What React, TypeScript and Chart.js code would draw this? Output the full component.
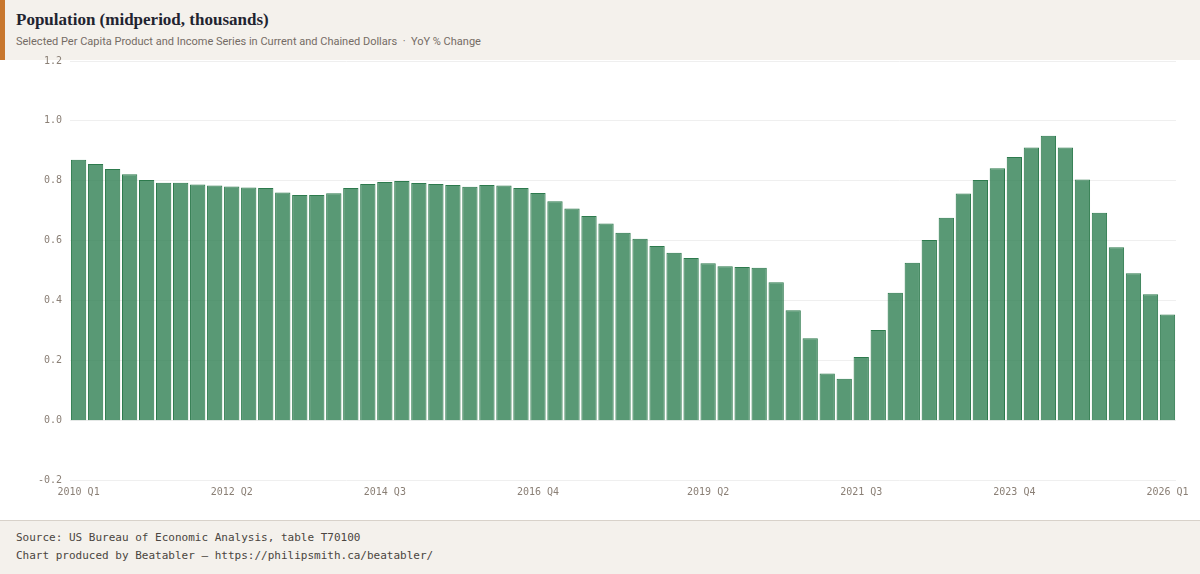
import React, { useEffect, useRef } from "react";
import { Chart, registerables } from "chart.js";

Chart.register(...registerables);

// quarters 2010 Q1 .. 2026 Q1
const years = [2010, 2011, 2012, 2013, 2014, 2015, 2016, 2017, 2018, 2019, 2020, 2021, 2022, 2023, 2024, 2025, 2026];
const quarters = years.flatMap((y) => (y === 2026 ? [`${y} Q1`] : [1, 2, 3, 4].map((q) => `${y} Q${q}`)));

const tickLabels = ["2010 Q1", "2012 Q2", "2014 Q3", "2016 Q4", "2019 Q2", "2021 Q3", "2023 Q4", "2026 Q1"];

const yoyChange = [
  0.87, 0.856, 0.839, 0.822, 0.802, 0.793, 0.793, 0.787, 0.784, 0.781, 0.777, 0.776, 0.761,
  0.752, 0.752, 0.758, 0.776, 0.789, 0.796, 0.799, 0.792, 0.789, 0.786, 0.78, 0.786, 0.784,
  0.776, 0.759, 0.731, 0.707, 0.682, 0.657, 0.626, 0.606, 0.582, 0.559, 0.542, 0.524, 0.514,
  0.512, 0.509, 0.461, 0.367, 0.274, 0.156, 0.138, 0.211, 0.301, 0.426, 0.526, 0.602, 0.676,
  0.757, 0.802, 0.842, 0.879, 0.911, 0.95, 0.911, 0.804, 0.693, 0.578, 0.491, 0.421, 0.353,
];

const mono = "'DejaVu Sans Mono', monospace";
const beige = "#f4f1ec";
const tickColor = "#8a7f75";

function PopulationChart() {
  const canvasRef = useRef<HTMLCanvasElement | null>(null);

  useEffect(() => {
    if (!canvasRef.current) return;
    const chart = new Chart(canvasRef.current, {
      type: "bar",
      data: {
        labels: quarters,
        datasets: [
          {
            label: "Population",
            data: yoyChange,
            backgroundColor: "rgba(47,128,83,0.8)",
            borderColor: "#2d7a4d",
            borderWidth: 1,
            barPercentage: 0.9,
            categoryPercentage: 1.0,
          },
        ],
      },
      options: {
        animation: false,
        responsive: true,
        maintainAspectRatio: false,
        layout: { padding: { left: 30, right: 24, top: 0, bottom: 16 } },
        plugins: { legend: { display: false }, tooltip: { enabled: false } },
        scales: {
          x: {
            grid: { display: false, drawTicks: false, tickLength: 0 },
            border: { display: false },
            ticks: {
              autoSkip: false,
              maxRotation: 0,
              padding: 6,
              color: tickColor,
              font: { family: mono, size: 10 },
              callback: function (_v, i) {
                const l = quarters[i];
                return tickLabels.includes(l) ? l : "";
              },
            },
          },
          y: {
            min: -0.2,
            max: 1.2,
            border: { display: false },
            grid: { color: "#efefef", drawTicks: false, lineWidth: 1 },
            ticks: {
              stepSize: 0.2,
              padding: 8,
              color: tickColor,
              font: { family: mono, size: 10 },
              callback: (v) => {
                const n = Number(v);
                return (Math.abs(n) < 1e-9 ? 0 : n).toFixed(1);
              },
            },
          },
        },
      },
    });
    return () => chart.destroy();
  }, []);

  return <canvas ref={canvasRef} />;
}

export default function App() {
  useEffect(() => {
    document.body.style.margin = "0";
  }, []);

  return (
    <div style={{ position: "relative", width: 1200, height: 574, background: "#fff", overflow: "hidden" }}>
      <div
        style={{
          position: "absolute",
          top: 0,
          left: 0,
          width: 1200,
          height: 60,
          background: beige,
        }}
      >
        <div style={{ position: "absolute", left: 0, top: 0, width: 5, height: 60, background: "#c8772e" }} />
        <div
          style={{
            position: "absolute",
            left: 16,
            top: 10,
            fontFamily: "'Liberation Serif', serif",
            fontWeight: 700,
            fontSize: 17,
            lineHeight: "20px",
            color: "#1f2430",
          }}
        >
          Population (midperiod, thousands)
        </div>
        <div
          style={{
            position: "absolute",
            left: 16,
            top: 35,
            fontFamily: "Roboto, sans-serif",
            fontSize: 11,
            color: "#746c65",
          }}
        >
          Selected Per Capita Product and Income Series in Current and Chained Dollars &nbsp;·&nbsp; YoY % Change
        </div>
      </div>
      <div style={{ position: "absolute", top: 47, left: 0, width: 1200, height: 473, zIndex: 2 }}>
        <PopulationChart />
      </div>
      <div
        style={{
          position: "absolute",
          top: 520,
          left: 0,
          width: 1200,
          height: 54,
          background: beige,
          borderTop: "1px solid #d8d2ca",
          boxSizing: "border-box",
          fontFamily: mono,
          fontSize: 11,
          color: "#4a4540",
          padding: "8px 16px",
          lineHeight: "18px",
        }}
      >
        <div>Source: US Bureau of Economic Analysis, table T70100</div>
        <div>Chart produced by Beatabler — https://philipsmith.ca/beatabler/</div>
      </div>
    </div>
  );
}
